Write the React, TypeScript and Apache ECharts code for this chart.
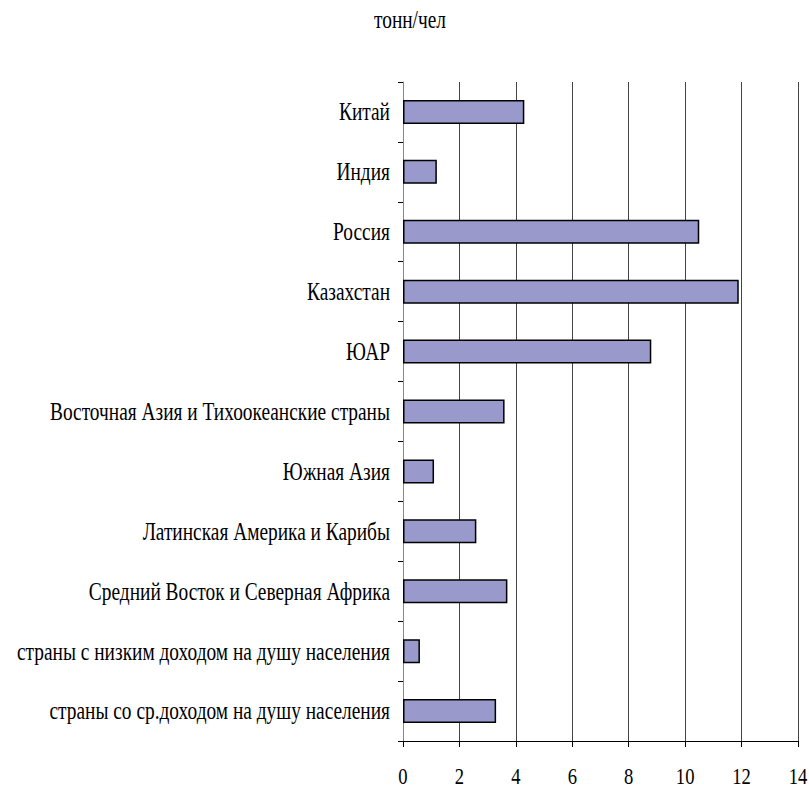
import React, { useEffect, useRef } from "react";
import * as echarts from "echarts";

const categories = [
  "Китай",
  "Индия",
  "Россия",
  "Казахстан",
  "ЮАР",
  "Восточная Азия и Тихоокеанские страны",
  "Южная Азия",
  "Латинская Америка и Карибы",
  "Средний Восток и Северная Африка",
  "страны с низким доходом на душу населения",
  "страны со ср.доходом на душу населения",
];
const values = [4.3, 1.2, 10.5, 11.9, 8.8, 3.6, 1.1, 2.6, 3.7, 0.6, 3.3];
const xTicks = [0, 2, 4, 6, 8, 10, 12, 14];
const unitTitle = "тонн/чел";

const FONT = "Times";
const FONT_SIZE = 25;
const SCALE_X = 0.775;

export default function App() {
  const ref = useRef<HTMLDivElement>(null);
  useEffect(() => {
    if (!ref.current) return;
    const chart = echarts.init(ref.current, undefined, { renderer: "svg" });
    chart.setOption({
      animation: false,
      backgroundColor: "#ffffff",
      grid: { left: 403, right: 11, top: 82, bottom: 48, containLabel: false },
      xAxis: {
        type: "value",
        min: 0,
        max: 14,
        interval: 2,
        axisLine: { show: true, lineStyle: { color: "#000", width: 1 } },
        axisTick: { show: true, inside: false, length: 6, lineStyle: { color: "#000" } },
        axisLabel: { show: false },
        splitLine: { show: true, lineStyle: { color: "#444", width: 1 } },
      },
      yAxis: {
        type: "category",
        data: categories,
        inverse: true,
        axisLine: { show: true, lineStyle: { color: "#888", width: 1 } },
        axisTick: { show: true, length: 5, lineStyle: { color: "#000" } },
        axisLabel: { show: false },
        splitLine: { show: false },
      },
      series: [
        {
          type: "bar",
          data: values,
          barWidth: 24,
          itemStyle: { color: "#9999cc", borderColor: "#000", borderWidth: 1.5 },
        },
      ],
    });

    const graphics: any[] = [];
    categories.forEach((c) => {
      const p = chart.convertToPixel({ xAxisIndex: 0, yAxisIndex: 0 }, [0, c]) as number[];
      graphics.push({
        type: "text",
        x: p[0] - 13,
        y: p[1],
        scaleX: SCALE_X,
        style: {
          text: c,
          fontFamily: FONT,
          fontSize: FONT_SIZE,
          fill: "#000",
          textAlign: "right",
          textVerticalAlign: "middle",
        },
      });
    });
    const axisY = chart.getHeight() - 48;
    xTicks.forEach((t) => {
      const p = chart.convertToPixel({ xAxisIndex: 0, yAxisIndex: 0 }, [t, categories[0]]) as number[];
      graphics.push({
        type: "text",
        x: p[0],
        y: axisY + 35,
        scaleX: SCALE_X,
        style: {
          text: String(t),
          fontFamily: FONT,
          fontSize: 24,
          fill: "#000",
          textAlign: "center",
          textVerticalAlign: "middle",
        },
      });
    });
    graphics.push({
      type: "text",
      x: 410,
      y: 20,
      scaleX: SCALE_X,
      style: {
        text: unitTitle,
        fontFamily: FONT,
        fontSize: FONT_SIZE,
        fill: "#000",
        textAlign: "center",
        textVerticalAlign: "middle",
      },
    });
    chart.setOption({ graphic: graphics });

    return () => chart.dispose();
  }, []);
  return (
    <div
      ref={ref}
      style={{ position: "fixed", left: 0, top: 0, width: 809, height: 789, background: "#fff" }}
    />
  );
}
